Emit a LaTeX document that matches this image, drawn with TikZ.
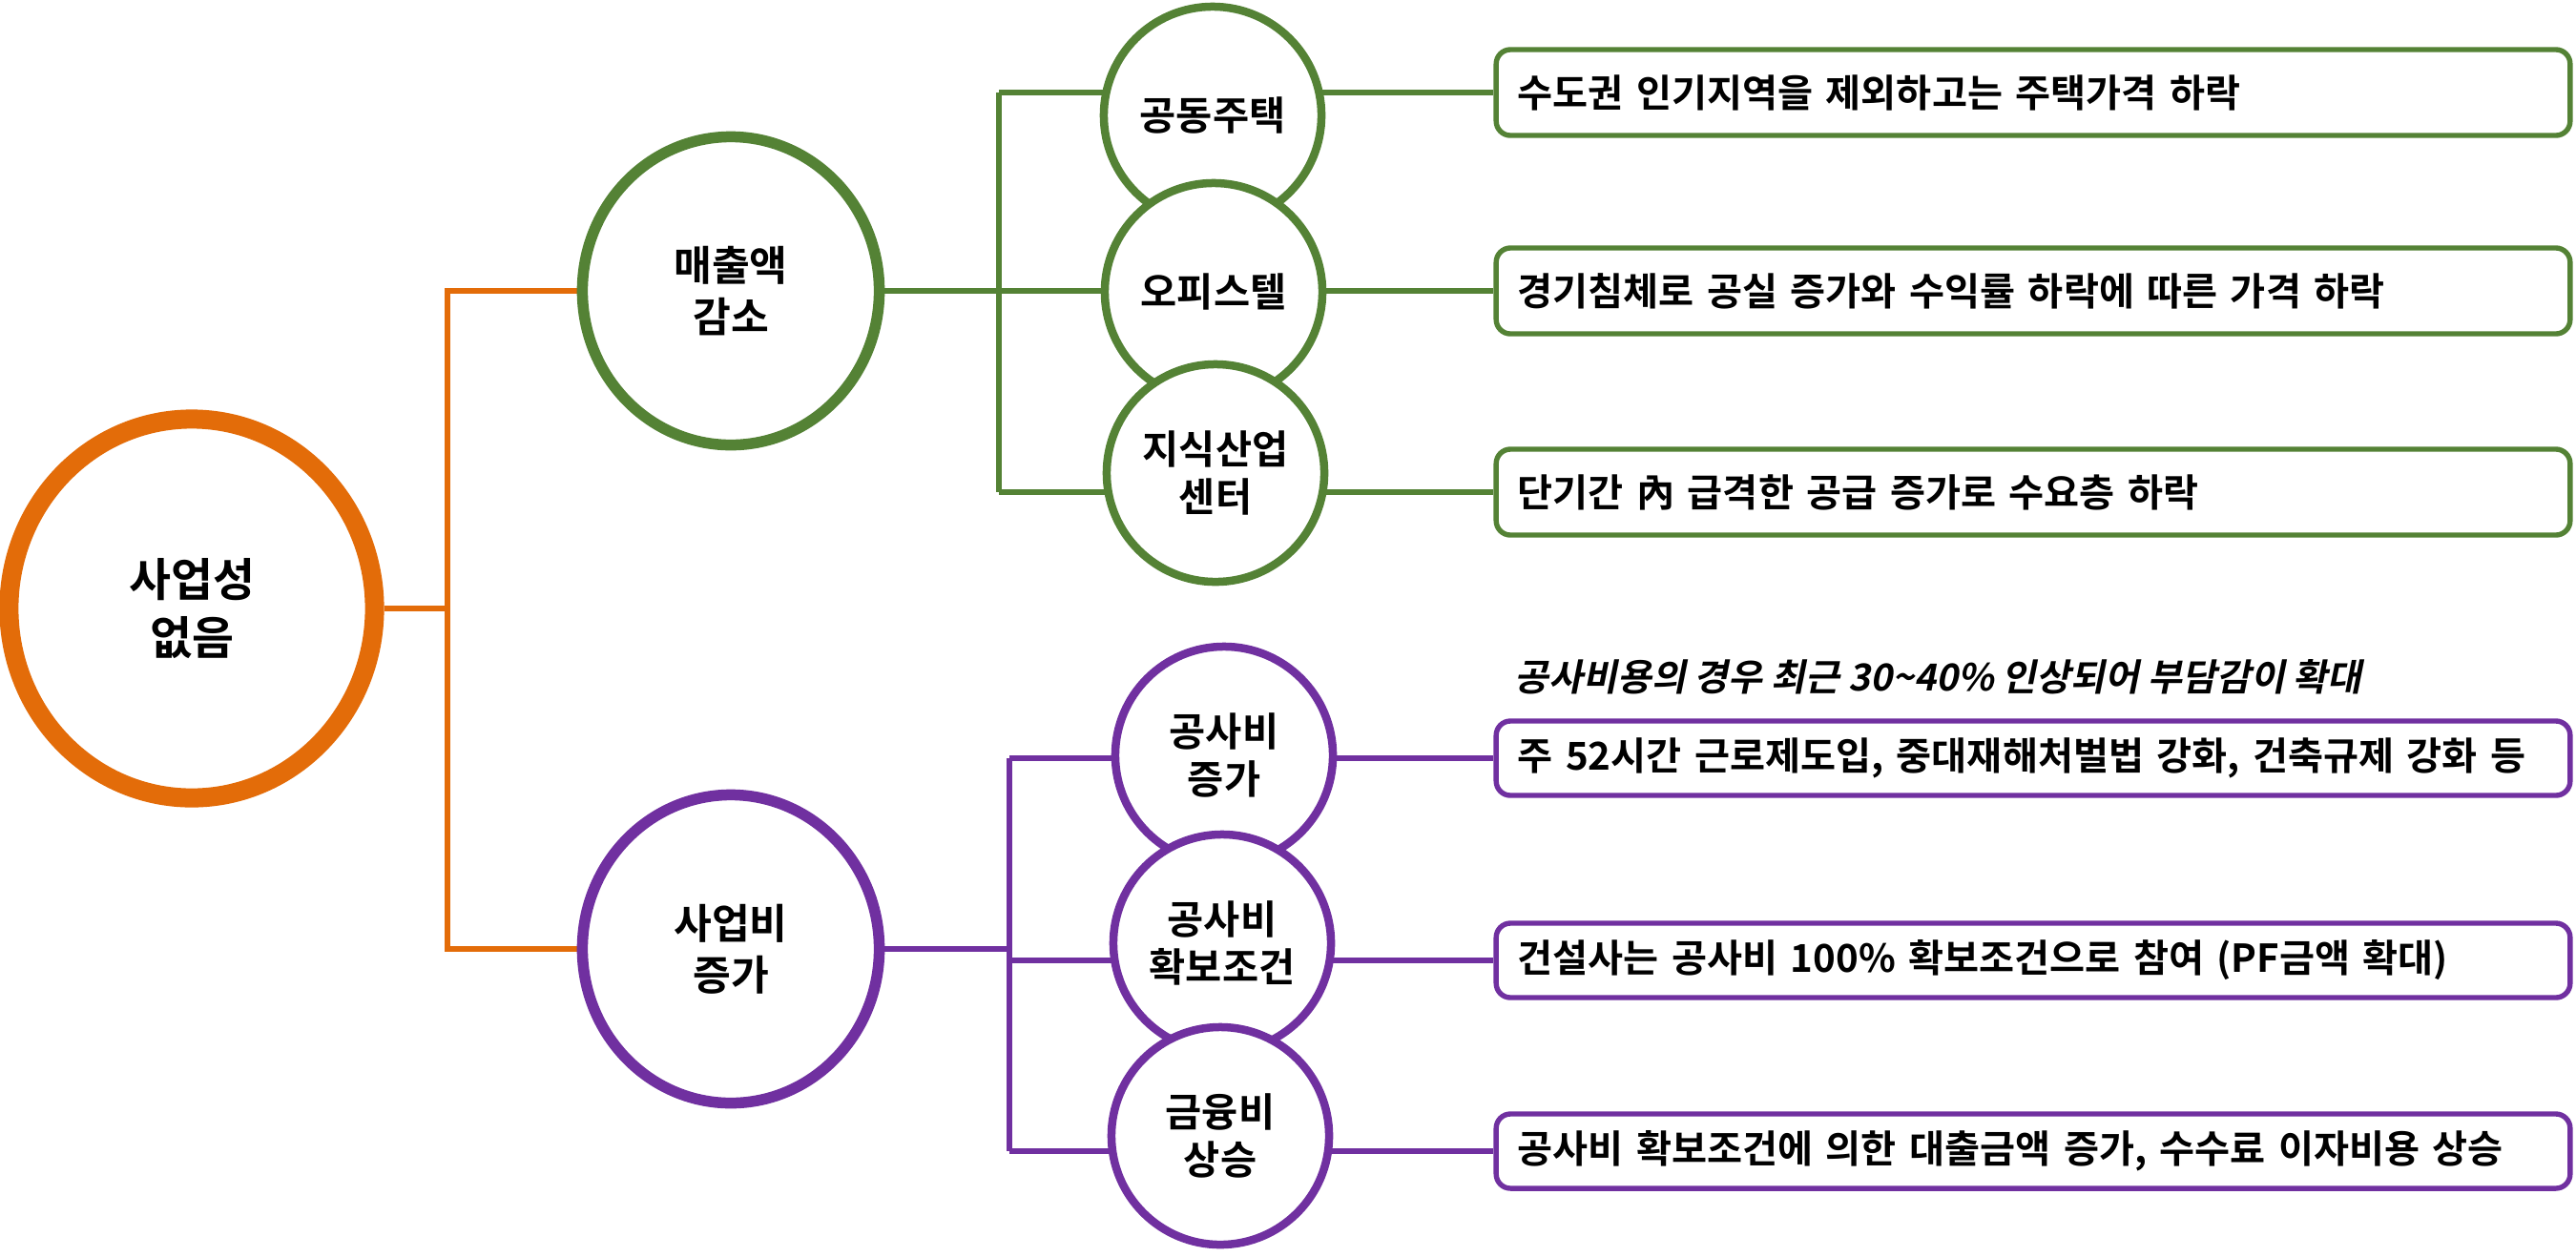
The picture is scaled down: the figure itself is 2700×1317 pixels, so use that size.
\documentclass[tikz,border=0pt]{standalone}
\usepackage{fontspec}
\setmainfont{Noto Sans CJK KR}[BoldFont={Noto Sans CJK KR Bold}]
\newfontfamily\slantfont{Noto Sans CJK KR Bold}[FakeSlant=0.2]
\usetikzlibrary{shapes.geometric,backgrounds}
\definecolor{rootorange}{HTML}{E36C09}
\definecolor{revgreen}{HTML}{548235}
\definecolor{costpurple}{HTML}{7030A0}

\begin{document}
\begin{tikzpicture}[x=0.01cm,y=-0.01cm,
    rootball/.style={ellipse, draw=rootorange, line width=0.2cm, fill=white,
      minimum width=3.83cm, minimum height=3.97cm, align=center,
      font=\fontsize{13.6}{17.4}\selectfont\bfseries},
    midball/.style={ellipse, draw=#1, line width=0.115cm, fill=white,
      minimum width=3.11cm, minimum height=3.23cm, align=center,
      font=\fontsize{12.3}{15.4}\selectfont\bfseries},
    leafball/.style={circle, draw=#1, line width=0.085cm, fill=white,
      minimum size=2.28cm, inner sep=0pt, align=center,
      font=\fontsize{11.8}{14.4}\selectfont\bfseries},
    notebox/.style={rectangle, rounded corners=0.15cm, draw=#1, line width=0.054cm,
      fill=white, text width=10.8cm, inner xsep=0.225cm, align=left,
      font=\fontsize{11.45}{13.5}\selectfont\bfseries},
    gbox/.style={notebox=revgreen, minimum height=0.9cm},
    pbox/.style={notebox=costpurple, minimum height=0.78cm},
    twig/.style={draw=#1, line width=0.054cm}]
    \useasboundingbox (0,0) rectangle (2700,1317);

    % Root and the two causes
    \node[rootball] (root) at (201,638) {사업성\\없음};
    \node[midball=revgreen] (rev) at (766,305) {매출액\\감소};
    \node[midball=costpurple] (cost) at (766,995) {사업비\\증가};

    % Sales side
    \node[leafball=revgreen] (apt) at (1271,121) {공동주택};
    \node[leafball=revgreen] (offi) at (1272,306) {오피스텔};
    \node[leafball=revgreen] (kic) at (1274,496) {지식산업\\센터};
    \node[gbox] (gb1) at (2131,97) {수도권 인기지역을 제외하고는 주택가격 하락};
    \node[gbox] (gb2) at (2131,305) {경기침체로 공실 증가와 수익률 하락에 따른 가격 하락};
    \node[gbox] (gb3) at (2131,516) {단기간 內 급격한 공급 증가로 수요층 하락};

    % Cost side
    \node[leafball=costpurple] (build) at (1283,792) {공사비\\증가};
    \node[leafball=costpurple] (secure) at (1281,989) {공사비\\확보조건};
    \node[leafball=costpurple] (fin) at (1279,1191) {금융비\\상승};
    \node[anchor=west, font=\fontsize{11.1}{13.5}\slantfont] (note) at (1575,710)
        {공사비용의 경우 최근 30\textasciitilde40\% 인상되어 부담감이 확대};
    \node[pbox] (pb1) at (2131,795) {주 52시간 근로제도입, 중대재해처벌법 강화, 건축규제 강화 등};
    \node[pbox] (pb2) at (2131,1007) {건설사는 공사비 100\% 확보조건으로 참여 (PF금액 확대)};
    \node[pbox] (pb3) at (2131,1207) {공사비 확보조건에 의한 대출금액 증가, 수수료 이자비용 상승};

    % Forks
    \coordinate (rootfork) at (469,0);
    \coordinate (revfork) at (1047,0);
    \coordinate (costfork) at (1058,0);
    \begin{scope}[on background layer]
        \draw[twig=rootorange] (root.east) -- (rootfork |- root.east);
        \draw[twig=rootorange] (rev.west) -- (rootfork |- rev.west)
            -- (rootfork |- cost.west) -- (cost.west);
        \draw[twig=revgreen] (rev.east) -- (revfork |- rev.east);
        \draw[twig=revgreen] (revfork |- gb1.west) -- (revfork |- gb3.west);
        \foreach \b in {gb1,gb2,gb3}
            \draw[twig=revgreen] (revfork |- \b.west) -- (\b.west);
        \draw[twig=costpurple] (cost.east) -- (costfork |- cost.east);
        \draw[twig=costpurple] (costfork |- pb1.west) -- (costfork |- pb3.west);
        \foreach \b in {pb1,pb2,pb3}
            \draw[twig=costpurple] (costfork |- \b.west) -- (\b.west);
    \end{scope}
\end{tikzpicture}
\end{document}
